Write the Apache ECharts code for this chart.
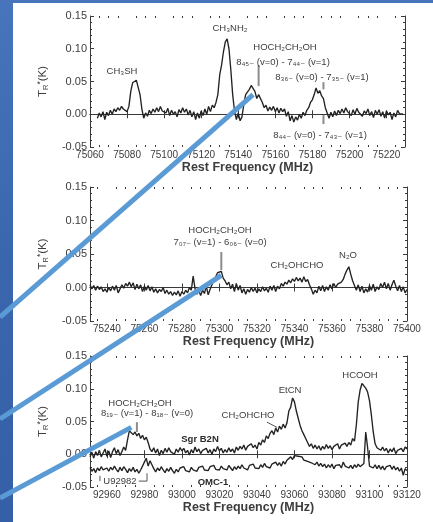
<!DOCTYPE html>
<html><head><meta charset="utf-8">
<script src="https://cdn.jsdelivr.net/npm/echarts@6/dist/echarts.min.js"></script>
<style>
html,body{margin:0;padding:0;background:#3a67ae;}
#c{width:433px;height:522px;background:linear-gradient(180deg,#4774ba 0%,#3a66ad 50%,#3560a8 100%);}
</style>
</head><body><div id="c"></div>
<script>
// ---------- DATA ----------
const chanStep = 1; // MHz per channel
const p1Start = 75064;
const p1Values = [
-0.006,0.002,-0.004,0.004,-0.008,0.003,-0.002,0.006,0.000,0.008,0.004,0.010,0.006,0.012,0.008,0.011,0.004,
0.012,0.035,0.048,0.045,0.052,0.049,0.030,0.008,-0.006,
0.002,-0.003,0.006,0.001,0.008,0.003,0.010,0.004,0.012,0.005,0.008,0.002,0.009,-0.002,0.006,0.000,0.004,-0.004,0.007,0.002,
0.010,0.003,0.008,-0.001,0.006,-0.004,0.004,-0.008,0.002,-0.006,0.005,-0.002,0.008,0.000,0.012,0.004,0.014,0.010,0.018,
0.030,0.060,0.075,0.095,0.110,0.115,0.100,0.068,0.030,0.005,-0.008,0.002,-0.010,-0.004,
0.015,0.030,0.028,0.038,0.044,0.046,0.035,0.024,0.030,0.028,0.018,0.010,0.014,0.005,0.011,0.006,0.012,0.004,0.010,0.002,
0.009,0.004,0.008,-0.003,0.004,-0.010,-0.002,-0.012,-0.004,-0.009,0.000,-0.006,0.003,-0.002,0.006,0.010,0.018,0.022,0.030,
0.040,0.032,0.036,0.028,0.024,0.010,0.002,-0.006,
0.003,-0.004,0.005,-0.002,0.006,0.001,0.008,0.002,0.010,0.004,0.006,-0.002,0.007,0.000,0.009,0.003,0.006,-0.003,0.005,0.001,
0.008,-0.002,0.004,-0.005,0.006,0.000,0.007,-0.003,0.004,-0.006,0.005,-0.001,0.003,-0.008,0.002,-0.004,0.006,0.001,0.004,0.000
];
const p2Start = 75231;
const p2Values = [
0.004,-0.002,0.003,-0.004,0.002,-0.003,0.001,-0.006,-0.002,-0.007,0.000,-0.005,0.002,-0.004,0.003,-0.008,-0.002,0.004,-0.001,0.006,
0.002,0.008,0.001,0.007,-0.003,0.005,-0.002,0.004,-0.006,0.002,-0.004,0.003,-0.005,0.001,-0.007,-0.002,-0.008,-0.003,-0.006,0.000,
-0.009,-0.004,-0.010,-0.006,-0.012,-0.007,-0.011,-0.005,-0.013,-0.006,-0.010,-0.004,-0.008,0.000,-0.004,0.017,-0.002,-0.010,-0.005,-0.012,
-0.004,-0.009,0.002,-0.011,-0.003,0.004,0.010,0.016,0.022,0.020,0.024,0.014,0.010,0.004,0.008,-0.002,0.005,-0.006,0.006,-0.004,
0.003,-0.008,-0.002,-0.010,-0.003,-0.007,0.000,-0.006,-0.001,-0.008,-0.002,-0.006,0.001,-0.005,-0.001,-0.007,0.002,-0.004,0.003,-0.006,
0.002,-0.002,0.006,0.002,0.008,0.005,0.011,0.007,0.013,0.009,0.015,0.010,0.014,0.008,0.016,0.009,0.012,0.004,-0.002,-0.010,
-0.004,-0.008,0.002,-0.005,0.003,-0.006,0.001,-0.004,0.004,-0.002,0.006,0.000,0.005,0.003,0.008,0.012,0.020,0.026,0.031,0.020,
0.010,0.003,-0.004,0.004,-0.006,0.002,-0.008,-0.002,-0.007,0.003,-0.004,0.005,-0.006,0.001,-0.003,0.006,0.000,0.008,-0.002,0.006,
-0.004,0.004,0.011,0.002,-0.005,0.003,-0.006,0.001,-0.008,-0.003
];
const p3Start = 92951;
const sgrB2NValues = [
-0.004,0.003,-0.006,0.004,-0.002,0.006,-0.004,0.002,0.008,-0.003,0.005,-0.005,0.004,0.010,0.001,0.007,-0.002,0.004,0.011,0.006,
0.022,0.036,0.038,0.030,0.034,0.028,0.032,0.024,0.029,0.022,0.026,0.018,0.008,0.004,0.010,0.002,0.008,-0.002,0.006,0.001,
0.009,0.003,0.010,0.004,0.007,0.000,0.008,0.003,0.010,0.005,0.009,0.002,0.006,-0.001,0.007,0.002,0.011,0.004,0.008,0.001,
0.006,0.003,0.009,0.002,0.007,0.000,0.008,0.004,0.012,0.005,0.009,0.002,0.007,0.003,0.010,0.004,0.008,0.002,0.011,0.006,
0.012,0.008,0.014,0.006,0.012,0.009,0.016,0.010,0.014,0.008,0.018,0.014,0.022,0.018,0.028,0.024,0.032,0.036,0.030,0.040,
0.034,0.043,0.038,0.046,0.040,0.048,0.066,0.072,0.086,0.080,0.066,0.055,0.044,0.036,0.030,0.024,0.018,0.012,0.016,0.009,
0.014,0.008,0.013,0.006,0.012,0.008,0.015,0.009,0.013,0.007,0.012,0.010,0.016,0.008,0.014,0.011,0.017,0.012,0.018,0.014,
0.024,0.020,0.045,0.080,0.098,0.108,0.105,0.101,0.095,0.082,0.060,0.034,0.016,0.010,0.013,0.006,0.011,0.005,0.009,0.002,
0.008,0.004,0.010,0.001,0.006,0.003,0.009,0.004,0.011,0.008
];
const omc1Values = [
-0.020,-0.026,-0.022,-0.028,-0.021,-0.025,-0.019,-0.024,-0.027,-0.021,-0.026,-0.020,-0.024,-0.018,-0.023,-0.027,-0.020,-0.025,-0.019,-0.023,
-0.028,-0.022,-0.026,-0.020,-0.027,-0.023,-0.029,-0.024,-0.021,-0.012,-0.006,-0.018,-0.010,-0.016,-0.022,-0.027,-0.021,-0.025,-0.019,-0.024,
-0.028,-0.022,-0.026,-0.020,-0.025,-0.029,-0.023,-0.027,-0.021,-0.024,-0.019,-0.025,-0.022,-0.027,-0.020,-0.024,-0.021,-0.026,-0.020,-0.023,
-0.018,-0.024,-0.021,-0.025,-0.019,-0.022,-0.017,-0.023,-0.020,-0.024,-0.018,-0.022,-0.019,-0.024,-0.017,-0.021,-0.025,-0.019,-0.023,-0.018,
-0.022,-0.016,-0.021,-0.019,-0.024,-0.017,-0.020,-0.015,-0.021,-0.018,-0.022,-0.016,-0.020,-0.014,-0.019,-0.016,-0.021,-0.015,-0.018,-0.012,
-0.017,-0.013,-0.018,-0.011,-0.015,-0.009,-0.012,-0.004,-0.008,-0.002,0.001,-0.003,-0.006,-0.004,-0.009,-0.006,-0.011,-0.008,-0.013,-0.010,
-0.016,-0.012,-0.018,-0.014,-0.019,-0.015,-0.021,-0.016,-0.020,-0.015,-0.022,-0.017,-0.020,-0.016,-0.021,-0.012,-0.018,-0.015,-0.021,-0.017,
-0.022,-0.016,-0.020,-0.015,-0.019,-0.017,-0.014,0.034,0.010,-0.018,-0.015,-0.021,-0.016,-0.022,-0.017,-0.023,-0.018,-0.024,-0.019,-0.022,
-0.017,-0.023,-0.018,-0.024,-0.020,-0.026,-0.021,-0.032,-0.022,-0.025
];
// axis ranges and tick labels
const p1Range = [75060, 75230];
const p2Range = [75231, 75400];
const p3Range = [92951, 93120];
const p1Ticks = [75060,75080,75100,75120,75140,75160,75180,75200,75220];
const p2Ticks = [75240,75260,75280,75300,75320,75340,75360,75380,75400];
const p3Ticks = [92960,92980,93000,93020,93040,93060,93080,93100,93120];
const yTicks = [-0.05, 0.00, 0.05, 0.10, 0.15];
// marker bars [freq, top, bottom]
const p1Markers = [[75151, 0.075, 0.043],[75186, 0.049, 0.038],[75186, -0.001, -0.015]];
const p2Markers = [[75301, 0.053, 0.026]];
const p3Markers = [[92976, 0.049, 0.034]];
// arrow targets [freq, T]
const arrowTargets = [[75148, 0.030],[75301, 0.018],[92973, 0.041]];

// ---------- BUILD ----------
function toPairs(start, vals){ return vals.map((v,i)=>[start + i*chanStep, v]); }
function minorOf(range, majors){
  const out=[]; const a=Math.ceil(range[0]/5)*5;
  for(let f=a; f<=range[1]; f+=5){ if(!majors.includes(f) && f>range[0] && f<range[1]) out.push(f); }
  return out;
}
const FONT = '"Liberation Sans", Arial, "DejaVu Sans", sans-serif';
const AX = '#3a3a3a';
const TXT = '#3c3c3c';
const grids = [
  {left:90, top:16, width:315, height:131},
  {left:90, top:187, width:317, height:134},
  {left:90, top:356, width:317, height:131}
];
const ranges=[p1Range,p2Range,p3Range];
const ticks=[p1Ticks,p2Ticks,p3Ticks];
const nameGaps=[14,14,13];
const xAxes=[], yAxes=[];
ranges.forEach((r,g)=>{
  const tk=ticks[g].filter(t=>t>=r[0]&&t<=r[1]);
  const mn=minorOf(r,tk);
  const base={type:'value',gridIndex:g,min:r[0],max:r[1],splitLine:{show:false}};
  xAxes.push(Object.assign({},base,{position:'bottom',
    axisLine:{show:true,lineStyle:{color:AX,width:1}},
    axisTick:{show:true,inside:true,length:4,customValues:tk,lineStyle:{color:AX}},
    axisLabel:{show:true,customValues:tk,color:TXT,fontSize:10,fontFamily:FONT,margin:3,formatter:v=>String(v)},
    name:'Rest Frequency (MHz)',nameLocation:'middle',nameGap:nameGaps[g],
    nameTextStyle:{color:TXT,fontSize:12.5,fontWeight:'bold',fontFamily:FONT}}));
  xAxes.push(Object.assign({},base,{position:'top',
    axisLine:{show:true,lineStyle:{color:AX,width:1}},
    axisTick:{show:true,inside:true,length:4,customValues:tk,lineStyle:{color:AX}},
    axisLabel:{show:false}}));
  xAxes.push(Object.assign({},base,{position:'bottom',
    axisLine:{show:false},
    axisTick:{show:true,inside:true,length:2,customValues:mn,lineStyle:{color:AX}},
    axisLabel:{show:false}}));
  xAxes.push(Object.assign({},base,{position:'top',
    axisLine:{show:false},
    axisTick:{show:true,inside:true,length:2,customValues:mn,lineStyle:{color:AX}},
    axisLabel:{show:false}}));
  const yb={type:'value',gridIndex:g,min:-0.05,max:0.15,interval:0.05,splitLine:{show:false},
    axisLine:{show:true,lineStyle:{color:AX,width:1}},
    axisTick:{show:true,inside:true,length:4,lineStyle:{color:AX}},
    minorTick:{show:true,splitNumber:5,length:2,lineStyle:{color:AX}}};
  yAxes.push(Object.assign({},yb,{position:'left',
    axisLabel:{show:true,color:TXT,fontSize:11,fontFamily:FONT,margin:3,formatter:v=>v.toFixed(2)},
    name:'{t|T}{s|R}{p|*}{t|(K)}',nameLocation:'middle',nameGap:40,
    nameTextStyle:{color:TXT,fontFamily:FONT,rich:{
      t:{fontSize:11.5,color:TXT,fontFamily:FONT,lineHeight:14,verticalAlign:'middle'},
      s:{fontSize:7.5,color:TXT,fontFamily:FONT,lineHeight:14,verticalAlign:'bottom'},
      p:{fontSize:8.5,color:TXT,fontFamily:FONT,lineHeight:14,verticalAlign:'top'}}}}));
  yAxes.push(Object.assign({},yb,{position:'right',axisLabel:{show:false}}));
});

const specStyle={color:'#222222',width:1.35};
function spec(g,start,vals,name){
  return {type:'line',name:name,xAxisIndex:g*4,yAxisIndex:g*2,data:toPairs(start,vals),
    showSymbol:false,symbol:'none',lineStyle:specStyle,animation:false,z:3};
}
function bars(g,list,color,width){
  return list.map(m=>({type:'line',xAxisIndex:g*4,yAxisIndex:g*2,data:[[m[0],m[1]],[m[0],m[2]]],
    showSymbol:false,symbol:'none',lineStyle:{color:color,width:width},animation:false,z:4}));
}
const series=[
  spec(0,p1Start,p1Values,'p1'),
  spec(1,p2Start,p2Values,'p2'),
  spec(2,p3Start,sgrB2NValues,'Sgr B2N'),
  spec(2,p3Start,omc1Values,'OMC-1'),
  ...bars(0,p1Markers,'#8c8c8c',2),
  ...bars(1,p2Markers,'#8c8c8c',2),
  ...bars(2,p3Markers,'#8c8c8c',2),
  {type:'line',xAxisIndex:8,yAxisIndex:4,data:[[93045.3,0.049],[93050.7,0.041]],showSymbol:false,symbol:'none',lineStyle:{color:'#555',width:1},animation:false},
  {type:'line',xAxisIndex:8,yAxisIndex:4,data:[[92956.3,-0.033],[92956.3,-0.041]],showSymbol:false,symbol:'none',lineStyle:{color:'#555',width:1},animation:false},
  {type:'line',xAxisIndex:8,yAxisIndex:4,data:[[92977,-0.041],[92981.4,-0.041],[92981.4,-0.029]],showSymbol:false,symbol:'none',lineStyle:{color:'#555',width:1},animation:false}
];

function txt(x,y,s){
  return {type:'text',x:x,y:y,z:50,style:{text:s,fill:TXT,font:'9.5px '+FONT,textAlign:'center',textVerticalAlign:'middle'}};
}
function bold(x,y,s){ const t=txt(x,y,s); t.style.font='bold 9.5px '+FONT; t.style.fill='#2a2a2a'; return t; }
const labels=[
  txt(122,71,'CH₃SH'),
  txt(230,28,'CH₃NH₂'),
  txt(285,47,'HOCH₂CH₂OH'),
  txt(283,62,'8₄₅₋ (v=0) - 7₄₄₋ (v=1)'),
  txt(322,77,'8₃₆₋ (v=0) - 7₃₅₋ (v=1)'),
  txt(320,135,'8₄₄₋ (v=0) - 7₄₃₋ (v=1)'),
  txt(220,230,'HOCH₂CH₂OH'),
  txt(220,242,'7₀₇₋ (v=1) - 6₀₆₋ (v=0)'),
  txt(297,265,'CH₂OHCHO'),
  txt(348,255,'N₂O'),
  txt(140,403,'HOCH₂CH₂OH'),
  txt(147,413,'8₁₉₋ (v=1) - 8₁₈₋ (v=0)'),
  bold(200,439,'Sgr B2N'),
  txt(248,415,'CH₂OHCHO'),
  txt(290,390,'EtCN'),
  txt(360,375,'HCOOH'),
  bold(213,482,'OMC-1'),
  txt(120,481,'U92982')
];

const chart=echarts.init(document.getElementById('c'),null,{renderer:'canvas'});
const baseGraphic=[{type:'rect',z:-100,shape:{x:13,y:3,width:420,height:519},style:{fill:'#ffffff'}}].concat(labels);
chart.setOption({
  backgroundColor:'transparent',
  animation:false,
  grid:grids,
  xAxis:xAxes,
  yAxis:yAxes,
  series:series,
  graphic:baseGraphic
});
// blue pointer lines, ending at data points
const seriesForPanel=[0,1,2];
const starts=[[0,317],[0,419],[0,498]];
const arrows=arrowTargets.map((t,i)=>{
  const p=chart.convertToPixel({seriesIndex:seriesForPanel[i]},t);
  return {type:'line',z:200,shape:{x1:starts[i][0],y1:starts[i][1],x2:p[0],y2:p[1]},
    style:{stroke:'#5b9bd5',lineWidth:5}};
});
chart.setOption({graphic:baseGraphic.concat(arrows)});
</script>
</body></html>
